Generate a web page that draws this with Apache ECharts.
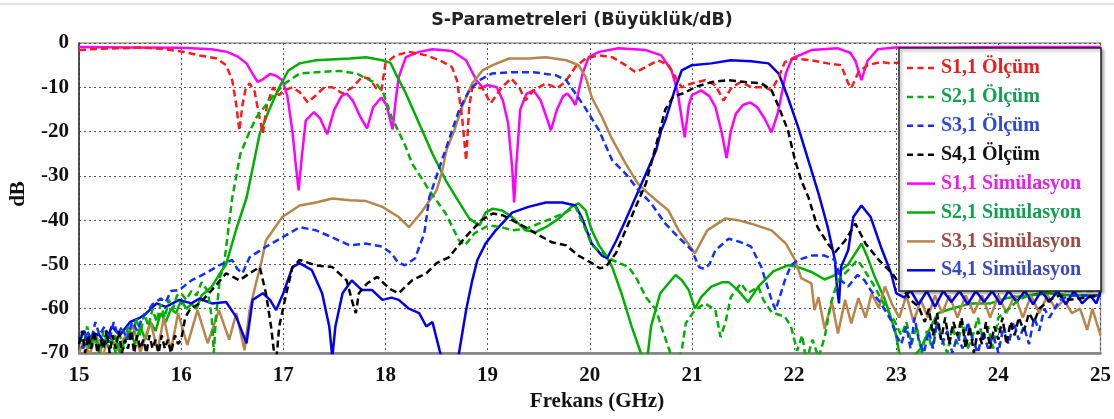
<!DOCTYPE html>
<html>
<head>
<meta charset="utf-8">
<script src="https://cdn.jsdelivr.net/npm/echarts@6/dist/echarts.min.js"></script>
<style>
  html, body { margin: 0; padding: 0; background: #fff; }
  #chart { width: 1114px; height: 419px; }
</style>
</head>
<body>
<div id="chart"></div>
<script>
// S-parameter magnitudes in dB versus frequency in GHz, as [GHz, dB] pairs.
const xTicks = [15, 16, 17, 18, 19, 20, 21, 22, 23, 24, 25];
const yTicks = [0, -10, -20, -30, -40, -50, -60, -70];

const seriesNames = [
  'S1,1 Ölçüm', 'S2,1 Ölçüm', 'S3,1 Ölçüm', 'S4,1 Ölçüm',
  'S1,1 Simülasyon', 'S2,1 Simülasyon', 'S3,1 Simülasyon', 'S4,1 Simülasyon'
];

const s11Olcum = [[15,-1.6],[15.2,-1.3],[15.4,-1.2],[15.6,-1.0],[15.8,-1.3],[16.0,-1.9],[16.18,-2.8],[16.35,-3.5],[16.44,-5],[16.5,-8.4],[16.54,-14],[16.57,-19.8],[16.6,-14],[16.63,-10.5],[16.67,-9.1],[16.72,-11],[16.76,-16],[16.8,-20.4],[16.84,-14],[16.9,-10],[16.96,-11.8],[17.0,-10.8],[17.09,-10],[17.16,-11.1],[17.24,-13.4],[17.32,-11.8],[17.4,-10],[17.48,-10],[17.58,-11.4],[17.68,-10],[17.77,-7.7],[17.84,-8],[17.91,-10.2],[17.96,-10.7],[18.0,-4.6],[18.1,-2.8],[18.23,-2],[18.4,-2.8],[18.53,-3.9],[18.65,-5.4],[18.7,-8.4],[18.75,-16.7],[18.79,-26.5],[18.82,-14.4],[18.85,-10],[18.95,-10.2],[19.03,-13.6],[19.08,-12],[19.14,-10],[19.23,-8],[19.31,-10],[19.37,-13],[19.45,-10.7],[19.57,-9.1],[19.68,-10.2],[19.76,-8.8],[19.86,-5.4],[19.96,-3.5],[20.09,-2.8],[20.22,-3.2],[20.35,-5],[20.45,-6.6],[20.55,-5.4],[20.67,-3.9],[20.77,-5],[20.84,-7.7],[20.9,-10],[21.0,-9.1],[21.13,-8.4],[21.23,-9.5],[21.31,-13],[21.39,-10],[21.48,-8.8],[21.58,-10],[21.72,-10],[21.78,-10.7],[21.85,-7.7],[21.91,-4.3],[22.0,-3.5],[22.17,-3.9],[22.33,-4.6],[22.46,-5],[22.53,-9.1],[22.56,-10.2],[22.63,-6.6],[22.72,-5],[22.85,-4.3],[22.95,-4.6],[23.2,-4],[23.6,-4.5],[24,-4],[24.5,-4.3],[25,-4]];

const s21Olcum = [[15,-66],[15.04,-69],[15.08,-64],[15.12,-68],[15.16,-66],[15.2,-70],[15.24,-65],[15.28,-68],[15.32,-67],[15.36,-70],[15.4,-66],[15.44,-69],[15.48,-64],[15.52,-67],[15.56,-62],[15.6,-66],[15.64,-61],[15.68,-64],[15.72,-60],[15.76,-63],[15.8,-59],[15.84,-62],[15.88,-58],[15.92,-60],[15.96,-57],[16.0,-56.5],[16.05,-58],[16.1,-56],[16.15,-57],[16.2,-54],[16.26,-56],[16.3,-62],[16.32,-70],[16.34,-62],[16.38,-53],[16.42,-50],[16.5,-35],[16.58,-25],[16.67,-20],[16.74,-16.7],[16.83,-14],[16.92,-11.4],[17.03,-8.9],[17.16,-6.9],[17.32,-6.6],[17.55,-6.3],[17.72,-6.9],[17.81,-8],[17.91,-9.1],[17.98,-11.4],[18.06,-16.7],[18.2,-23.5],[18.26,-27.2],[18.43,-33.3],[18.59,-38.5],[18.72,-44.6],[18.78,-45.7],[18.87,-43],[19.01,-41.2],[19.14,-41.6],[19.24,-42.3],[19.37,-42],[19.5,-40.8],[19.63,-39.6],[19.76,-38.3],[19.86,-37],[19.95,-41.6],[20.02,-45.7],[20.22,-49],[20.38,-50.6],[20.45,-52.8],[20.55,-57.4],[20.65,-60.3],[20.7,-64],[20.77,-68.7],[20.82,-72],[20.88,-71],[20.9,-69.5],[20.94,-63.3],[21.03,-60.3],[21.13,-58.8],[21.23,-60.3],[21.28,-66.4],[21.33,-63],[21.38,-57.4],[21.48,-54.3],[21.55,-56.5],[21.65,-55],[21.7,-58],[21.78,-60.8],[21.91,-61.8],[21.97,-64],[22.03,-69.5],[22.08,-66],[22.12,-72],[22.18,-67],[22.24,-71],[22.3,-66.4],[22.36,-58.8],[22.43,-53.6],[22.53,-51.3],[22.62,-49],[22.67,-50.6],[22.77,-54.3],[22.93,-61],[22.98,-62.6],[23.05,-66],[23.1,-63],[23.15,-68],[23.2,-64],[23.25,-70],[23.3,-65],[23.35,-69],[23.4,-63],[23.45,-67],[23.5,-70],[23.55,-64],[23.6,-68],[23.65,-63],[23.7,-69],[23.75,-66],[23.8,-62],[23.85,-67],[23.9,-64],[23.95,-69],[24.0,-62],[24.1,-60],[24.2,-58],[24.3,-57],[24.5,-56],[25,-56]];

const s31Olcum = [[15,-66],[15.04,-69],[15.08,-65],[15.12,-67],[15.16,-63],[15.2,-66],[15.25,-64],[15.3,-67],[15.34,-63],[15.38,-66],[15.42,-64],[15.47,-67],[15.52,-63],[15.57,-65],[15.62,-62],[15.66,-61],[15.72,-59],[15.8,-57.7],[15.85,-58.5],[15.9,-56],[15.98,-55.8],[16.1,-53.6],[16.24,-52],[16.37,-50.2],[16.5,-49],[16.55,-51],[16.6,-52],[16.67,-48.4],[16.83,-46],[16.99,-43.9],[17.16,-41.6],[17.32,-42.3],[17.48,-43.9],[17.65,-45.7],[17.81,-45.3],[17.97,-46],[18.06,-47.5],[18.12,-49.5],[18.19,-50.2],[18.29,-48.6],[18.38,-43],[18.43,-34.8],[18.53,-28],[18.63,-21.3],[18.72,-15.2],[18.82,-10.7],[18.92,-8.4],[19.04,-6.9],[19.24,-6.6],[19.45,-6.6],[19.67,-7.3],[19.77,-8.4],[19.86,-11.4],[19.96,-14.8],[20.09,-19.7],[20.22,-26.5],[20.35,-29.5],[20.48,-33.3],[20.6,-36.2],[20.74,-40.8],[20.87,-43.9],[21.0,-46.8],[21.07,-50.6],[21.12,-51],[21.17,-50],[21.23,-46.8],[21.36,-44.2],[21.48,-45],[21.58,-46],[21.68,-50.6],[21.78,-58],[21.82,-60.3],[21.91,-53.6],[21.97,-50.2],[22.04,-49],[22.17,-48],[22.3,-48],[22.4,-49],[22.46,-53.6],[22.53,-55],[22.62,-52.4],[22.69,-53.6],[22.75,-55.8],[22.85,-58.8],[22.95,-62.6],[23.0,-66],[23.05,-68],[23.1,-64],[23.14,-69],[23.18,-62],[23.22,-67],[23.27,-70],[23.32,-65],[23.36,-69],[23.4,-63],[23.45,-68],[23.5,-65],[23.55,-70],[23.6,-66],[23.65,-69],[23.7,-63],[23.75,-67],[23.8,-70],[23.85,-65],[23.9,-69],[23.95,-66],[24.0,-70],[24.05,-64],[24.1,-68],[24.15,-63],[24.2,-67],[24.25,-64],[24.3,-68],[24.35,-62],[24.4,-65],[24.45,-60],[24.5,-62],[24.6,-58],[24.7,-57],[25,-57]];

const s41Olcum = [[15,-68],[15.03,-65],[15.06,-70],[15.09,-66],[15.12,-69],[15.15,-65],[15.18,-70],[15.21,-67],[15.24,-69],[15.27,-65],[15.3,-70],[15.33,-66],[15.36,-69],[15.39,-65],[15.42,-70],[15.45,-67],[15.48,-69],[15.51,-65],[15.54,-70],[15.57,-66],[15.6,-69],[15.63,-67],[15.66,-70],[15.69,-66],[15.72,-69],[15.75,-67],[15.78,-70],[15.81,-66],[15.84,-69],[15.87,-67],[15.9,-70],[15.94,-66],[15.97,-68],[16.0,-67],[16.04,-62],[16.09,-60],[16.18,-58.8],[16.3,-55.8],[16.44,-52],[16.57,-53.6],[16.67,-52],[16.77,-50.6],[16.83,-56.5],[16.88,-64],[16.91,-70],[16.93,-72],[16.96,-64],[17.03,-56.5],[17.09,-50.6],[17.16,-49],[17.32,-50.2],[17.48,-50.6],[17.62,-53.6],[17.68,-58.8],[17.71,-61],[17.74,-56.5],[17.82,-54.3],[17.92,-52.8],[18.04,-55.5],[18.13,-56.5],[18.26,-53.6],[18.4,-52],[18.5,-49.7],[18.62,-48.4],[18.78,-43.9],[18.94,-40],[19.05,-38.5],[19.15,-38.9],[19.24,-40],[19.37,-41.6],[19.5,-43.4],[19.63,-45],[19.77,-45.7],[19.89,-48],[20.02,-49.7],[20.1,-50.9],[20.16,-50.5],[20.26,-47.3],[20.35,-42.3],[20.45,-37],[20.55,-31.7],[20.65,-23],[20.74,-15],[20.82,-12],[20.91,-11.4],[21.05,-9.8],[21.2,-8.8],[21.36,-8.4],[21.52,-8.8],[21.68,-9.1],[21.78,-10.7],[21.85,-14.4],[21.94,-19.7],[22.01,-26.5],[22.07,-31],[22.14,-34.8],[22.23,-41.6],[22.33,-45.3],[22.4,-47.3],[22.5,-44.6],[22.6,-40.8],[22.7,-45.3],[22.83,-49],[22.96,-52],[23.05,-55],[23.14,-58],[23.22,-59.6],[23.28,-63],[23.32,-60],[23.36,-66],[23.4,-61],[23.44,-67],[23.48,-62],[23.52,-68],[23.56,-63],[23.6,-66],[23.64,-62],[23.68,-69],[23.72,-64],[23.76,-70],[23.8,-65],[23.84,-68],[23.88,-63],[23.92,-69],[23.96,-64],[24.0,-67],[24.04,-62],[24.08,-68],[24.12,-63],[24.16,-66],[24.2,-62],[24.25,-65],[24.3,-61],[24.35,-63],[24.4,-60],[24.5,-58],[24.6,-57],[24.7,-58],[25,-57]];

const s11Sim = [[15,-0.9],[15.5,-1.0],[16.0,-1.1],[16.3,-1.4],[16.45,-2],[16.55,-3],[16.64,-4.6],[16.7,-7],[16.75,-8.8],[16.8,-8.2],[16.87,-7],[16.93,-7.4],[16.99,-8.4],[17.04,-12],[17.09,-20],[17.12,-27],[17.15,-33.3],[17.18,-26],[17.22,-17.5],[17.3,-15.6],[17.36,-17],[17.43,-20.6],[17.5,-15],[17.57,-12],[17.62,-11.4],[17.68,-13],[17.75,-16.5],[17.82,-19.3],[17.88,-14.5],[17.96,-12.3],[18.01,-14],[18.07,-19.5],[18.1,-13],[18.13,-7.7],[18.2,-3.2],[18.33,-2],[18.46,-1.4],[18.65,-1.8],[18.79,-3.9],[18.89,-8.4],[18.95,-10],[19.0,-9.5],[19.09,-10],[19.15,-13],[19.2,-18],[19.24,-28],[19.26,-36],[19.28,-28],[19.32,-15],[19.38,-11.5],[19.45,-10.7],[19.52,-13],[19.58,-17],[19.62,-19.7],[19.68,-15],[19.74,-12],[19.78,-11.4],[19.82,-12.5],[19.86,-14],[19.9,-10],[19.93,-6.9],[19.99,-3.2],[20.09,-2],[20.28,-1.2],[20.55,-1.6],[20.7,-2.8],[20.8,-6.2],[20.86,-11],[20.9,-17],[20.93,-21.3],[20.97,-14],[21.0,-11.8],[21.09,-10.7],[21.17,-12],[21.23,-14.4],[21.29,-20],[21.34,-26],[21.38,-20],[21.43,-16],[21.5,-14],[21.57,-13.4],[21.64,-14.5],[21.71,-17],[21.78,-20.2],[21.84,-15.9],[21.92,-6.9],[21.98,-3.5],[22.17,-1.6],[22.43,-1.2],[22.55,-2.2],[22.6,-4],[22.66,-8.4],[22.72,-4],[22.82,-1.4],[22.99,-1.0],[23.5,-1.0],[24,-0.9],[25,-0.9]];

const s21Sim = [[15,-68],[15.05,-65],[15.1,-69],[15.15,-66],[15.2,-70],[15.25,-67],[15.3,-69],[15.35,-66],[15.4,-70],[15.45,-67],[15.5,-65],[15.55,-68],[15.6,-64],[15.65,-67],[15.7,-63],[15.75,-65],[15.8,-61],[15.85,-63],[15.9,-60],[15.95,-61],[16.0,-58],[16.05,-60],[16.1,-59],[16.15,-60],[16.2,-57],[16.3,-55],[16.38,-52],[16.44,-50],[16.54,-42],[16.64,-35],[16.72,-26],[16.77,-20.4],[16.86,-15.2],[16.96,-10],[17.05,-6.2],[17.16,-4.6],[17.32,-3.9],[17.65,-3.5],[17.81,-3.2],[17.97,-3.9],[18.05,-4.5],[18.1,-6.9],[18.2,-11.4],[18.33,-18.2],[18.46,-25],[18.59,-31],[18.69,-34.8],[18.82,-39.6],[18.92,-41.2],[18.98,-38.3],[19.05,-37.4],[19.14,-37.8],[19.24,-39.3],[19.37,-42.3],[19.47,-42.7],[19.57,-41.6],[19.7,-39.6],[19.82,-37],[19.89,-36.2],[19.96,-37.8],[20.02,-42.3],[20.09,-45.7],[20.16,-48],[20.22,-50.6],[20.31,-56.5],[20.41,-64],[20.5,-70],[20.53,-72],[20.57,-70],[20.6,-64],[20.69,-56.5],[20.77,-54.3],[20.84,-52.4],[20.9,-53.5],[20.97,-55.8],[21.03,-60],[21.09,-57.4],[21.19,-55],[21.3,-54],[21.36,-54],[21.45,-55.8],[21.55,-58.5],[21.65,-55],[21.8,-51.5],[21.94,-50.2],[22.04,-50.6],[22.17,-51.7],[22.3,-53.4],[22.4,-52.4],[22.53,-50],[22.66,-45.3],[22.72,-48.4],[22.79,-52.8],[22.89,-58],[22.99,-65],[23.03,-70],[23.1,-72],[23.2,-70],[23.24,-69],[23.34,-64],[23.41,-61],[23.54,-60],[23.73,-58.8],[23.92,-58.8],[24.1,-57.5],[24.3,-57],[24.5,-56.5],[24.7,-57],[25,-57]];

const s31Sim = [[15,-70],[15.05,-67],[15.1,-70.5],[15.17,-66],[15.23,-71],[15.3,-65.3],[15.37,-69.4],[15.46,-66],[15.53,-64],[15.6,-69.8],[15.7,-63],[15.77,-69.5],[15.83,-62],[15.9,-69.5],[15.97,-61],[16.06,-68.2],[16.16,-60.3],[16.26,-67.8],[16.37,-60.3],[16.47,-67],[16.54,-61],[16.62,-69.4],[16.67,-60.3],[16.74,-53.6],[16.78,-50],[16.83,-44.6],[16.99,-39.3],[17.16,-36.7],[17.32,-36],[17.48,-35.1],[17.65,-35.5],[17.81,-35.7],[17.97,-37],[18.13,-39.3],[18.23,-41.6],[18.35,-38.3],[18.5,-33.3],[18.55,-29.5],[18.6,-24],[18.67,-20],[18.75,-14.4],[18.85,-9.1],[18.95,-6.2],[19.05,-5],[19.21,-3.5],[19.4,-3.5],[19.57,-3.2],[19.77,-3.9],[19.89,-5],[19.96,-7.7],[20.02,-12.3],[20.12,-16.7],[20.21,-21.3],[20.35,-27.2],[20.47,-31.7],[20.55,-33.5],[20.65,-35.5],[20.77,-37.8],[20.87,-42.3],[21.03,-47.5],[21.15,-42.3],[21.33,-39.6],[21.45,-40],[21.58,-40.8],[21.78,-42.3],[21.92,-45.3],[22.01,-49],[22.07,-53.1],[22.17,-54.3],[22.2,-60.3],[22.24,-57.4],[22.3,-64.5],[22.37,-58.5],[22.43,-65.6],[22.5,-58],[22.56,-63.3],[22.63,-57.6],[22.7,-62],[22.76,-56.5],[22.83,-59.8],[22.89,-55],[22.96,-59],[23.03,-62],[23.1,-57],[23.17,-63],[23.24,-58],[23.31,-62],[23.38,-57],[23.45,-61],[23.52,-57],[23.6,-62],[23.68,-57],[23.76,-61],[23.84,-57],[23.92,-62],[24.0,-57],[24.08,-61],[24.16,-57],[24.24,-62],[24.32,-57],[24.4,-61],[24.48,-57],[24.56,-60],[24.64,-58],[24.72,-61],[24.8,-60],[24.87,-64.8],[24.92,-60],[24.96,-63],[25,-66]];

const s41Sim = [[15,-67],[15.05,-65],[15.1,-68],[15.15,-65.6],[15.2,-66],[15.26,-68],[15.32,-64],[15.4,-66],[15.5,-63],[15.6,-62],[15.66,-61],[15.76,-58.8],[15.85,-59.6],[15.98,-58],[16.1,-58.8],[16.18,-57.7],[16.3,-58.8],[16.44,-58.5],[16.54,-61.9],[16.64,-67.8],[16.7,-58],[16.8,-56.5],[16.87,-58],[16.93,-60.3],[17.0,-56.5],[17.09,-50.6],[17.16,-49.7],[17.28,-51.3],[17.38,-56.5],[17.45,-64],[17.48,-71],[17.51,-64],[17.58,-56.5],[17.67,-53.6],[17.77,-55.8],[17.87,-55.8],[17.97,-58],[18.06,-57.5],[18.13,-58],[18.23,-60],[18.33,-61],[18.4,-64],[18.46,-63],[18.53,-69.4],[18.56,-72],[18.7,-72],[18.72,-70],[18.79,-60.3],[18.85,-53.6],[18.9,-49],[18.98,-45.3],[19.08,-42.3],[19.24,-38.3],[19.4,-37],[19.57,-36],[19.73,-36],[19.86,-36.7],[19.92,-39.3],[20.02,-45.3],[20.12,-48],[20.17,-48.6],[20.26,-44.6],[20.35,-40],[20.45,-34.8],[20.55,-29.5],[20.65,-24.2],[20.7,-19.7],[20.74,-17.5],[20.84,-10],[20.9,-6.2],[21.0,-5],[21.19,-4.6],[21.38,-3.9],[21.58,-4.1],[21.75,-4.6],[21.85,-6.9],[21.94,-12.3],[22.04,-19],[22.14,-26.5],[22.24,-34],[22.33,-41.6],[22.4,-49],[22.42,-55],[22.44,-58.8],[22.46,-50.6],[22.53,-46.8],[22.58,-39.3],[22.66,-36.7],[22.75,-39.3],[22.85,-46],[22.95,-52],[23.0,-56.5],[23.08,-57.5],[23.14,-55.8],[23.22,-59],[23.3,-56],[23.38,-59.6],[23.46,-56],[23.54,-58.5],[23.62,-56],[23.7,-59],[23.78,-56],[23.86,-58.5],[23.94,-56],[24.02,-59],[24.1,-56],[24.18,-58.5],[24.26,-56],[24.34,-59],[24.42,-56],[24.5,-58.5],[24.58,-56],[24.66,-59],[24.74,-56],[24.82,-58.8],[24.9,-57],[24.96,-58.8],[25,-56]];

const seriesData = [s11Olcum, s21Olcum, s31Olcum, s41Olcum, s11Sim, s21Sim, s31Sim, s41Sim];
const lineColors = ['#ff1a1a', '#00b000', '#1030ff', '#000000', '#ff00ff', '#00b000', '#b8844a', '#0000ee'];
const textColors = ['#ee1c1c', '#10a050', '#2f48d8', '#111111', '#e81ee8', '#10a050', '#9c4a42', '#3a46c8'];
const dashed = [true, true, true, true, false, false, false, false];

const serif = '"Liberation Serif", "Times New Roman", serif';

const chart = echarts.init(document.getElementById('chart'), null, { renderer: 'canvas' });

const series = seriesNames.map((name, i) => ({
  name: name,
  type: 'line',
  data: seriesData[i],
  showSymbol: false,
  symbol: 'none',
  smooth: false,
  clip: true,
  z: dashed[i] ? 3 : 2,
  lineStyle: {
    color: lineColors[i],
    width: 2.5,
    type: dashed[i] ? [7, 4] : 'solid'
  },
  itemStyle: { color: lineColors[i] }
}));

// Legend box: a framed panel with one line sample and label per series,
// drawn on its own canvas layer above the plotted lines.
const legendX = 899, legendY = 48, legendW = 202, legendH = 243;
const legendRow0 = 68, legendRowStep = 28.9;
const legendZ = { zlevel: 1, z: 100 };
const legendElements = [
  Object.assign({ type: 'rect', silent: true,
    shape: { x: legendX, y: legendY, width: legendW, height: legendH },
    style: { fill: '#ffffff', stroke: '#222', lineWidth: 1.5,
             shadowColor: 'rgba(0,0,0,0.35)', shadowBlur: 3, shadowOffsetX: 2, shadowOffsetY: 2 } }, legendZ)
];
seriesNames.forEach((name, i) => {
  const cy = legendRow0 + i * legendRowStep;
  legendElements.push(Object.assign({
    type: 'line', silent: true, shape: { x1: 907, y1: cy, x2: 935, y2: cy },
    style: { stroke: lineColors[i], lineWidth: 2.5, lineDash: dashed[i] ? [6, 4.5] : null }
  }, legendZ, { z: 101 }));
  legendElements.push(Object.assign({
    type: 'text', silent: true, x: 941, y: cy,
    style: { text: name, fill: textColors[i], font: 'bold 20px ' + serif, textAlign: 'left', textVerticalAlign: 'middle' }
  }, legendZ, { z: 101 }));
});

chart.setOption({
  animation: false,
  backgroundColor: '#ffffff',
  grid: {
    left: 79, right: 11, top: 43, bottom: 66,
    show: true, borderColor: '#9a9a9a', borderWidth: 1.5
  },
  xAxis: {
    type: 'value',
    min: xTicks[0], max: xTicks[xTicks.length - 1], interval: 1,
    axisLine: { show: true, onZero: false, lineStyle: { color: '#808080', width: 2.5 } },
    axisTick: { show: false },
    axisLabel: { color: '#111', fontFamily: serif, fontWeight: 'bold', fontSize: 21, margin: 12 },
    splitLine: { show: true, lineStyle: { color: '#555', width: 1, type: [2, 3] } }
  },
  yAxis: {
    type: 'value',
    min: yTicks[yTicks.length - 1], max: yTicks[0], interval: 10,
    axisLine: { show: true, onZero: false, lineStyle: { color: '#333', width: 1.5 } },
    axisTick: { show: false },
    axisLabel: { color: '#111', fontFamily: serif, fontWeight: 'bold', fontSize: 21, margin: 10 },
    splitLine: { show: true, lineStyle: { color: '#555', width: 1, type: [2, 3] } }
  },
  graphic: [
    { type: 'line', shape: { x1: 0, y1: 4, x2: 1114, y2: 4 }, style: { stroke: '#e2e2e2', lineWidth: 2 }, silent: true },
    { type: 'text', x: 582, y: 20, style: { text: 'S-Parametreleri (Büyüklük/dB)', fill: '#222', font: 'bold 17.5px "DejaVu Sans", sans-serif', textAlign: 'center', textVerticalAlign: 'middle' } },
    { type: 'text', x: 19, y: 194, rotation: Math.PI / 2, style: { text: 'dB', fill: '#111', font: 'bold 21px ' + serif, textAlign: 'center', textVerticalAlign: 'middle' } },
    { type: 'text', x: 597, y: 402, style: { text: 'Frekans (GHz)', fill: '#111', font: 'bold 21px ' + serif, textAlign: 'center', textVerticalAlign: 'middle' } }
  ].concat(legendElements),
  series: series
});
</script>
</body>
</html>
